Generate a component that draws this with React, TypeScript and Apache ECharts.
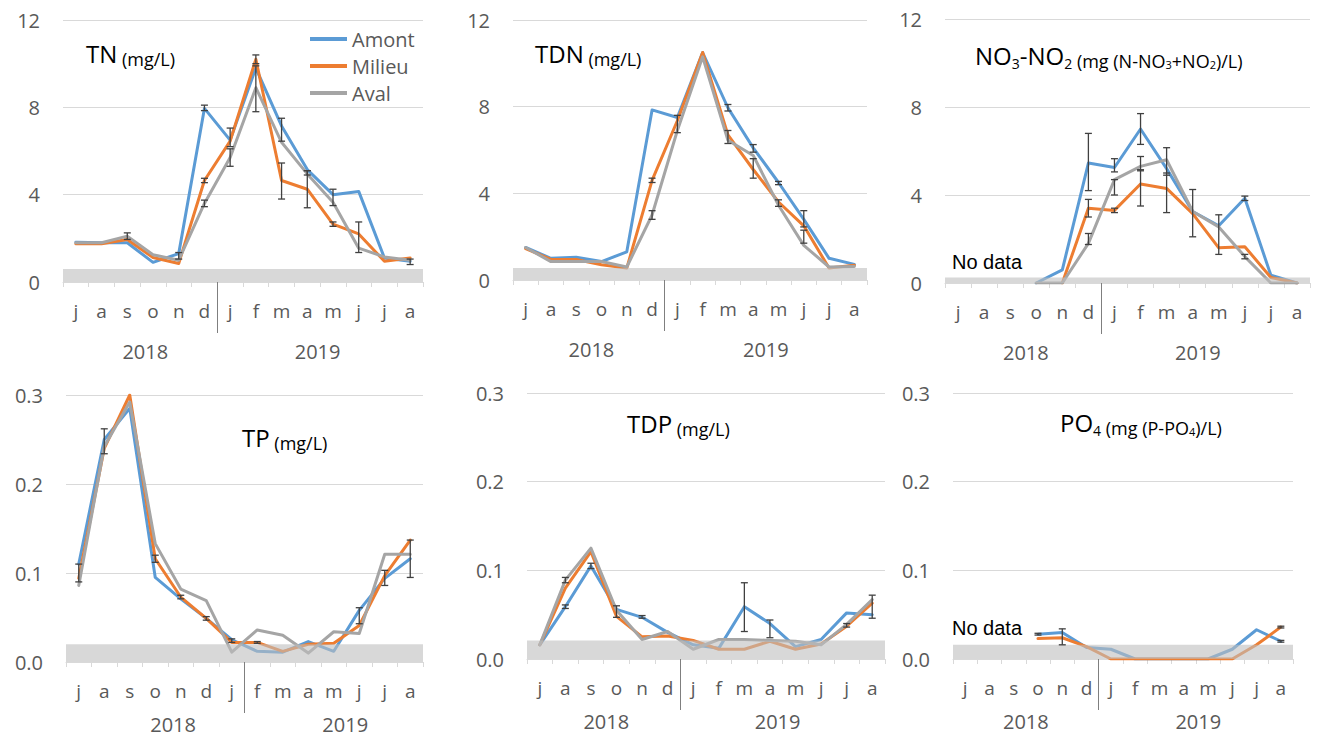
import React, { useEffect, useRef } from 'react';
import * as echarts from 'echarts';

// ---------- categories / labels ----------
const categories = ['2018-07', '2018-08', '2018-09', '2018-10', '2018-11', '2018-12', '2019-01', '2019-02', '2019-03', '2019-04', '2019-05', '2019-06', '2019-07', '2019-08'];
const monthLabels = ['j', 'a', 's', 'o', 'n', 'd', 'j', 'f', 'm', 'a', 'm', 'j', 'j', 'a'];
const yearLabels = ['2018', '2019'];
const siteNames = ['Amont', 'Milieu', 'Aval'];
const siteColors = ['#5b9bd5', '#ed7d31', '#a5a5a5'];

// ---------- TN (mg/L) ----------
const tnAmont = [1.82, 1.8, 1.8, 0.9, 1.3, 7.95, 6.5, 9.8, 7.15, 5.15, 4.0, 4.15, 1.1, 0.95];
const tnMilieu = [1.75, 1.75, 1.95, 1.12, 0.85, 4.65, 6.45, 10.2, 4.65, 4.25, 2.65, 2.2, 0.95, 1.1];
const tnAval = [1.8, 1.8, 2.1, 1.25, 1.0, 3.6, 5.7, 8.9, 6.4, 4.95, 3.65, 1.55, 1.15, 1.0];
const tnErrors = [[2, 1.95, 2.25], [4, 1.05, 1.35], [5, 7.85, 8.1], [5, 4.55, 4.75], [5, 3.45, 3.75], [6, 6.2, 7.05], [6, 5.3, 6.1], [7, 10.0, 10.4], [7, 7.8, 9.9], [8, 6.45, 7.5], [8, 3.8, 5.45], [9, 3.4, 5.1], [9, 4.9, 5.1], [10, 3.5, 4.25], [10, 2.55, 2.75], [11, 1.35, 2.75], [13, 0.8, 1.05]];
const tnBand = 0.6;

// ---------- TDN (mg/L) ----------
const tdnAmont = [1.5, 1.0, 1.05, 0.85, 1.3, 7.85, 7.5, 10.5, 7.95, 6.1, 4.5, 2.8, 1.0, 0.72];
const tdnMilieu = [1.45, 0.95, 0.95, 0.7, 0.55, 4.6, 7.35, 10.5, 6.7, 5.1, 3.6, 2.5, 0.55, 0.68];
const tdnAval = [1.5, 0.85, 0.85, 0.85, 0.6, 3.0, 6.9, 10.3, 6.45, 5.75, 3.45, 1.6, 0.6, 0.62];
const tdnErrors = [[5, 4.5, 4.7], [5, 2.8, 3.2], [6, 6.8, 7.6], [8, 7.8, 8.1], [8, 6.3, 6.9], [9, 5.9, 6.25], [9, 4.7, 5.6], [10, 4.4, 4.55], [10, 3.4, 3.7], [11, 2.45, 3.2], [11, 1.7, 2.3]];
const tdnBand = 0.55;

// ---------- NO3-NO2 (mg (N-NO3+NO2)/L) ----------
const no3Amont = [null, null, null, 0, 0.6, 5.45, 5.25, 7.0, 5.2, 3.25, 2.6, 3.85, 0.35, 0];
const no3Milieu = [null, null, null, null, 0, 3.4, 3.3, 4.5, 4.3, 3.15, 1.6, 1.65, 0.25, 0];
const no3Aval = [null, null, null, 0, 0, 1.8, 4.7, 5.3, 5.6, 3.25, 2.55, 1.2, 0, 0];
const no3Errors = [[5, 4.2, 6.8], [5, 3.0, 3.8], [5, 1.75, 2.25], [6, 5.05, 5.65], [6, 4.0, 4.7], [6, 3.2, 3.4], [7, 6.3, 7.7], [7, 5.1, 5.75], [7, 3.5, 5.15], [8, 4.9, 6.15], [8, 3.2, 5.0], [9, 2.1, 4.25], [10, 1.3, 3.1], [11, 3.75, 3.95], [11, 1.1, 1.3]];
const no3Band = 0.25;

// ---------- TP (mg/L) ----------
const tpAmont = [0.11, 0.25, 0.285, 0.095, 0.071, 0.049, 0.025, 0.012, 0.011, 0.023, 0.012, 0.058, 0.094, 0.116];
const tpMilieu = [0.094, 0.24, 0.3, 0.116, 0.073, 0.049, 0.022, 0.022, 0.012, 0.02, 0.021, 0.041, 0.097, 0.137];
const tpAval = [0.086, 0.242, 0.292, 0.133, 0.082, 0.069, 0.011, 0.036, 0.03, 0.01, 0.034, 0.032, 0.121, 0.121];
const tpErrors = [[0, 0.09, 0.11], [1, 0.234, 0.262], [3, 0.112, 0.12], [4, 0.071, 0.075], [5, 0.047, 0.051], [6, 0.022, 0.026], [7, 0.021, 0.023], [11, 0.043, 0.061], [12, 0.086, 0.103], [13, 0.095, 0.137]];
const tpBand = 0.02;

// ---------- TDP (mg/L) ----------
const tdpAmont = [0.016, 0.059, 0.105, 0.056, 0.047, 0.03, 0.016, 0.012, 0.059, 0.04, 0.014, 0.022, 0.052, 0.05];
const tdpMilieu = [0.016, 0.08, 0.121, 0.048, 0.025, 0.026, 0.021, 0.011, 0.011, 0.02, 0.011, 0.017, 0.037, 0.063];
const tdpAval = [0.016, 0.089, 0.125, 0.055, 0.022, 0.031, 0.011, 0.022, 0.022, 0.021, 0.02, 0.016, 0.039, 0.067];
const tdpErrors = [[1, 0.086, 0.092], [1, 0.057, 0.061], [2, 0.102, 0.108], [3, 0.047, 0.06], [4, 0.046, 0.049], [8, 0.031, 0.086], [9, 0.024, 0.044], [12, 0.036, 0.04], [13, 0.046, 0.072]];
const tdpBand = 0.021;

// ---------- PO4 (mg (P-PO4)/L) ----------
const po4Amont = [null, null, null, 0.028, 0.03, 0.013, 0.011, 0, 0, 0, 0, 0.011, 0.033, 0.02];
const po4Milieu = [null, null, null, 0.023, 0.024, 0.014, 0, 0, 0, 0, 0, 0, 0.016, 0.036];
const po4Aval = [null, null, null, null, null, null, null, null, null, null, null, null, null, null];
const po4Errors = [[3, 0.027, 0.029], [4, 0.016, 0.034], [13, 0.035, 0.037], [13, 0.019, 0.021]];
const po4Band = 0.016;

// ---------- panel layout ----------
const panels = [
  { title: '{a|TN}{b| (mg/L)}', data: [tnAmont, tnMilieu, tnAval], errors: tnErrors, band: tnBand, max: 12, interval: 4, dec: 0, sep: 6, years: [3.2, 9.9], yearMargin: 59, grid: { left: 63, top: 20, width: 360, height: 262 }, titleAt: [86, 53] },
  { title: '{a|TDN}{b| (mg/L)}', data: [tdnAmont, tdnMilieu, tdnAval], errors: tdnErrors, band: tdnBand, max: 12, interval: 4, dec: 0, sep: 6, years: [3.1, 10.0], yearMargin: 59, grid: { left: 513, top: 20, width: 354, height: 260 }, titleAt: [535, 53] },
  { title: '{a|NO}{s|3}{a|-NO}{s|2}{b| (mg (N-NO}{bs|3}{b|+NO}{bs|2}{b|)/L)}', data: [no3Amont, no3Milieu, no3Aval], errors: no3Errors, band: no3Band, max: 12, interval: 4, dec: 0, sep: 6, years: [3.1, 9.7], yearMargin: 59, grid: { left: 945, top: 19, width: 365, height: 264 }, titleAt: [975, 55], noData: [952, 262] },
  { title: '{a|TP}{b| (mg/L)}', data: [tpAmont, tpMilieu, tpAval], errors: tpErrors, band: tpBand, max: 0.3, interval: 0.1, dec: 1, sep: 7, years: [4.2, 10.95], yearMargin: 52, grid: { left: 66, top: 395, width: 357, height: 267 }, titleAt: [242, 437] },
  { title: '{a|TDP}{b| (mg/L)}', data: [tdpAmont, tdpMilieu, tdpAval], errors: tdpErrors, band: tdpBand, max: 0.3, interval: 0.1, dec: 1, sep: 6, years: [3.1, 9.8], yearMargin: 52, grid: { left: 527, top: 393, width: 358, height: 266 }, titleAt: [627, 423] },
  { title: '{a|PO}{s|4}{b| (mg (P-PO}{bs|4}{b|)/L)}', data: [po4Amont, po4Milieu, po4Aval], errors: po4Errors, band: po4Band, max: 0.3, interval: 0.1, dec: 1, sep: 6, years: [3.0, 10.1], yearMargin: 52, grid: { left: 953, top: 393, width: 340, height: 266 }, titleAt: [1060, 422], noData: [952, 628] },
];

const TEXT = '#595959';
const FONT = 'Open Sans';

const titleRich = {
  a: { fontSize: 24, lineHeight: 30, color: TEXT, fontFamily: FONT },
  s: { fontSize: 14, lineHeight: 14, color: TEXT, fontFamily: FONT, verticalAlign: 'bottom' },
  b: { fontSize: 18, lineHeight: 24, color: TEXT, fontFamily: FONT, verticalAlign: 'bottom' },
  bs: { fontSize: 11, lineHeight: 14, color: TEXT, fontFamily: FONT, verticalAlign: 'bottom' },
};

const renderErrorBar = (params: any, api: any) => {
  const x = api.value(0);
  const lo = api.coord([x, api.value(1)]);
  const hi = api.coord([x, api.value(2)]);
  const w = 3.5;
  const style = { stroke: '#404040', lineWidth: 1.3 };
  return {
    type: 'group',
    children: [
      { type: 'line', shape: { x1: lo[0], y1: lo[1], x2: hi[0], y2: hi[1] }, style },
      { type: 'line', shape: { x1: lo[0] - w, y1: lo[1], x2: lo[0] + w, y2: lo[1] }, style },
      { type: 'line', shape: { x1: hi[0] - w, y1: hi[1], x2: hi[0] + w, y2: hi[1] }, style },
    ],
  };
};

function buildOption() {
  const grid: any[] = [];
  const xAxis: any[] = [];
  const yAxis: any[] = [];
  const series: any[] = [];
  const graphic: any[] = [];

  panels.forEach((p, i) => {
    grid.push({ ...p.grid, containLabel: false });
    xAxis[i] = {
      type: 'category',
      gridIndex: i,
      data: categories,
      boundaryGap: true,
      axisLine: { show: true, lineStyle: { color: '#d9d9d9', width: 1 } },
      axisTick: { show: true, length: 5, lineStyle: { color: '#d9d9d9' } },
      axisLabel: { interval: 0, color: TEXT, fontSize: 19, fontFamily: FONT, margin: 19, formatter: (_v: string, idx: number) => monthLabels[idx] },
      splitLine: { show: false },
    };
    xAxis[6 + i] = {
      type: 'value',
      gridIndex: i,
      position: 'bottom',
      min: 0,
      max: 14,
      axisLine: { show: false },
      splitLine: { show: false },
      axisTick: { show: true, customValues: [p.sep], length: 51, lineStyle: { color: '#7f7f7f', width: 1 } },
      axisLabel: {
        show: true,
        customValues: p.years,
        showMinLabel: true,
        showMaxLabel: true,
        hideOverlap: false,
        margin: p.yearMargin,
        color: TEXT,
        fontSize: 20,
        lineHeight: 20,
        fontFamily: FONT,
        formatter: (v: any) => (Number(v) < p.sep ? yearLabels[0] : yearLabels[1]),
      },
    };
    yAxis.push({
      type: 'value',
      gridIndex: i,
      min: 0,
      max: p.max,
      interval: p.interval,
      axisLine: { show: false },
      axisTick: { show: false },
      splitLine: { show: true, lineStyle: { color: '#d9d9d9', width: 1 } },
      axisLabel: { color: TEXT, fontSize: 20, fontFamily: FONT, margin: 23, formatter: (v: number) => v.toFixed(p.dec) },
    });

    siteNames.forEach((name, k) => {
      series.push({
        type: 'line',
        name,
        xAxisIndex: i,
        yAxisIndex: i,
        data: p.data[k],
        symbol: 'none',
        connectNulls: false,
        silent: true,
        z: 2,
        itemStyle: { color: siteColors[k] },
        lineStyle: { color: siteColors[k], width: 3, cap: 'round', join: 'round' },
      });
    });

    series.push({
      type: 'line',
      name: 'band' + i,
      xAxisIndex: i,
      yAxisIndex: i,
      data: [],
      silent: true,
      z: 3,
      markArea: {
        silent: true,
        z: 3,
        itemStyle: { color: 'rgba(190,190,190,0.6)' },
        data: [[{ yAxis: 0 }, { yAxis: p.band }]],
      },
    });

    series.push({
      type: 'custom',
      name: 'err' + i,
      xAxisIndex: i,
      yAxisIndex: i,
      data: p.errors,
      encode: { x: 0, y: [1, 2] },
      renderItem: renderErrorBar,
      silent: true,
      z: 4,
    });

    graphic.push({
      type: 'text',
      x: p.titleAt[0],
      y: p.titleAt[1],
      style: { text: p.title, rich: titleRich, verticalAlign: 'middle', align: 'left' },
    });
    if (p.noData) {
      graphic.push({
        type: 'text',
        x: p.noData[0],
        y: p.noData[1],
        style: { text: 'No data', fill: '#000', fontSize: 20, fontFamily: 'Liberation Sans', verticalAlign: 'middle', align: 'left' },
      });
    }
  });

  return {
    animation: false,
    textStyle: { fontFamily: FONT },
    legend: {
      data: siteNames,
      orient: 'vertical',
      left: 305,
      top: 24,
      icon: 'rect',
      itemWidth: 37,
      itemHeight: 4,
      itemGap: 7,
      selectedMode: false,
      textStyle: { color: TEXT, fontSize: 20, fontFamily: FONT },
    },
    grid,
    xAxis,
    yAxis,
    series,
    graphic,
  };
}

export default function App() {
  const ref = useRef<HTMLDivElement>(null);
  useEffect(() => {
    if (!ref.current) return;
    const chart = echarts.init(ref.current, undefined, { renderer: 'svg' });
    chart.setOption(buildOption() as any);
    return () => chart.dispose();
  }, []);
  return <div ref={ref} style={{ position: 'fixed', left: 0, top: 0, width: 1317, height: 742, background: '#fff' }} />;
}
